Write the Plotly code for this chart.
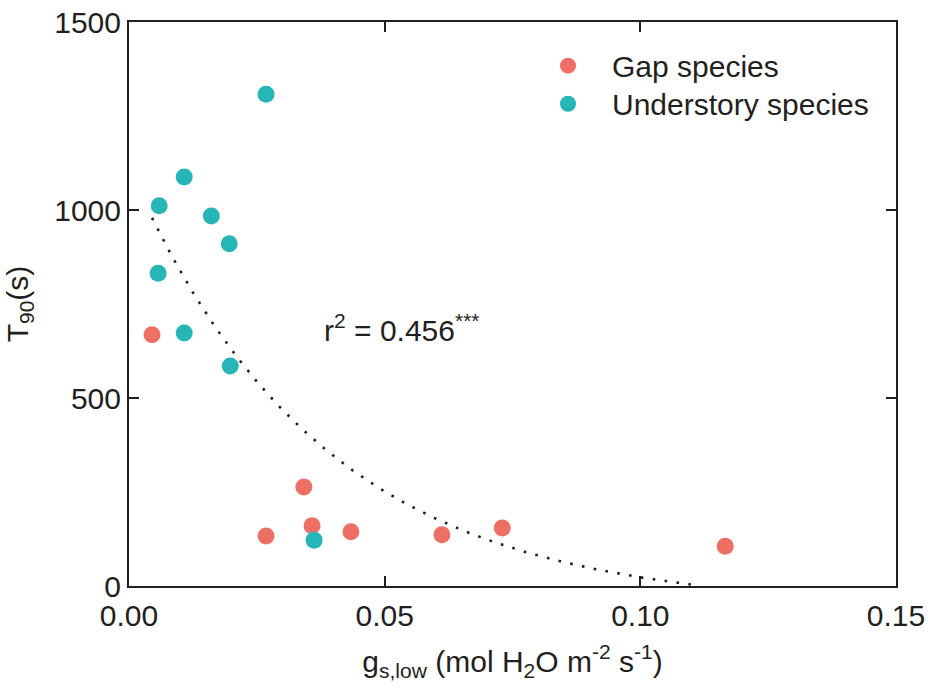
import numpy as np
import plotly.graph_objects as go

# Data
gap_x = [0.0045, 0.0268, 0.0342, 0.0358, 0.0434, 0.0612, 0.0730, 0.1166]
gap_y = [668, 133, 263, 160, 144, 136, 154, 106]

und_x = [0.0268, 0.0108, 0.0059, 0.0161, 0.0196, 0.0057, 0.0108, 0.0198, 0.0362]
und_y = [1308, 1088, 1011, 984, 910, 832, 673, 585, 122]

# Fitted curve: y = A*exp(-k*x) + C
fit_A = 1170.0
fit_k = 26.5
fit_C = -59.5
fit_xmin, fit_xmax = 0.0045, 0.110

x_ticks = [0.00, 0.05, 0.10, 0.15]
y_ticks = [0, 500, 1000, 1500]

RED = "#EE6F64"
CYAN = "#27B6B8"
FONT = "Arial, Liberation Sans, sans-serif"
INK = "#231f20"
FS = 30

fx = np.linspace(fit_xmin, fit_xmax, 200)
fy = fit_A * np.exp(-fit_k * fx) + fit_C

fig = go.Figure()
fig.add_trace(go.Scatter(x=fx, y=fy, mode="lines", showlegend=False,
                         line=dict(color=INK, width=2.6, dash="2.6px,9.4px"),
                         hoverinfo="skip"))
fig.add_trace(go.Scatter(x=gap_x, y=gap_y, mode="markers", name="Gap species",
                         legend="legend",
                         marker=dict(color=RED, size=17, line=dict(width=0))))
fig.add_trace(go.Scatter(x=und_x, y=und_y, mode="markers", name="Understory species",
                         legend="legend2",
                         marker=dict(color=CYAN, size=17, line=dict(width=0))))

fig.add_annotation(x=0.0377, y=686, xref="x", yref="y",
                   text="r<sup>2</sup> = 0.456<sup>***</sup>",
                   showarrow=False, xanchor="left", yanchor="middle",
                   font=dict(family=FONT, size=FS, color=INK))

axis_common = dict(showgrid=False, zeroline=False, showline=True, linecolor=INK,
                   linewidth=2, mirror="ticks", ticks="inside", ticklen=10,
                   tickwidth=2, tickcolor=INK,
                   tickfont=dict(family=FONT, size=FS, color=INK))

fig.update_xaxes(range=[0, 0.15], tickvals=x_ticks, tickformat=".2f",
                 ticklabelstandoff=2,
                 title=dict(text="g<sub>s,low</sub> (mol H<sub>2</sub>O m<sup>-2</sup> s<sup>-1</sup>)",
                            font=dict(family=FONT, size=FS, color=INK), standoff=20),
                 **axis_common)
fig.update_yaxes(range=[0, 1500], tickvals=y_ticks,
                 ticklabelstandoff=0,
                 title=dict(text="T<sub>90</sub>(s)",
                            font=dict(family=FONT, size=FS, color=INK), standoff=17),
                 **axis_common)

leg_common = dict(x=0.515, xanchor="left", yanchor="top",
                  bgcolor="rgba(0,0,0,0)", itemwidth=78,
                  font=dict(family=FONT, size=FS, color=INK))

fig.update_layout(
    width=928, height=689,
    margin=dict(l=129, r=32, t=22, b=103, autoexpand=False),
    plot_bgcolor="white", paper_bgcolor="white",
    font=dict(family=FONT, size=FS, color=INK),
    legend=dict(y=0.9686, **leg_common),
    legend2=dict(y=0.9012, **leg_common),
)

fig.write_html("out.html")
